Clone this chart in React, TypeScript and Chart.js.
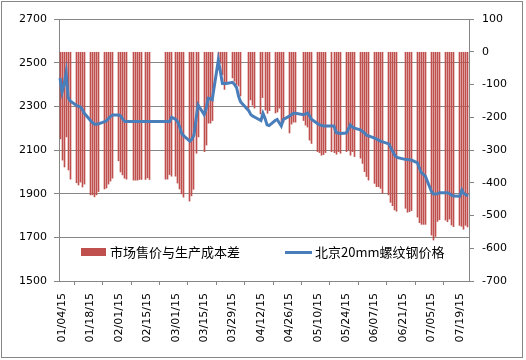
import React, { useEffect, useRef } from "react";
import { Chart, registerables } from "chart.js";

Chart.register(...registerables);

// ---- Data ----
const workDates: string[] = [
  "01/04/15", "01/05/15", "01/06/15", "01/07/15", "01/08/15", "01/09/15",
  "01/12/15", "01/13/15", "01/14/15", "01/15/15", "01/16/15",
  "01/19/15", "01/20/15", "01/21/15", "01/22/15", "01/23/15",
  "01/26/15", "01/27/15", "01/28/15", "01/29/15", "01/30/15",
  "02/02/15", "02/03/15", "02/04/15", "02/05/15", "02/06/15",
  "02/09/15", "02/10/15", "02/11/15", "02/12/15", "02/13/15",
  "02/15/15", "02/16/15", "02/17/15",
  "02/25/15", "02/26/15", "02/27/15", "02/28/15",
  "03/02/15", "03/03/15", "03/04/15", "03/05/15", "03/06/15",
  "03/09/15", "03/10/15", "03/11/15", "03/12/15", "03/13/15",
  "03/16/15", "03/17/15", "03/18/15", "03/19/15", "03/20/15",
  "03/23/15", "03/24/15", "03/25/15", "03/26/15", "03/27/15",
  "03/30/15", "03/31/15", "04/01/15", "04/02/15", "04/03/15",
  "04/07/15", "04/08/15", "04/09/15", "04/10/15",
  "04/13/15", "04/14/15", "04/15/15", "04/16/15", "04/17/15",
  "04/20/15", "04/21/15", "04/22/15", "04/23/15", "04/24/15",
  "04/27/15", "04/28/15", "04/29/15", "04/30/15",
  "05/04/15", "05/05/15", "05/06/15", "05/07/15", "05/08/15",
  "05/11/15", "05/12/15", "05/13/15", "05/14/15", "05/15/15",
  "05/18/15", "05/19/15", "05/20/15", "05/21/15", "05/22/15",
  "05/25/15", "05/26/15", "05/27/15", "05/28/15", "05/29/15",
  "06/01/15", "06/02/15", "06/03/15", "06/04/15", "06/05/15",
  "06/08/15", "06/09/15", "06/10/15", "06/11/15", "06/12/15",
  "06/15/15", "06/16/15", "06/17/15", "06/18/15", "06/19/15",
  "06/23/15", "06/24/15", "06/25/15", "06/26/15",
  "06/29/15", "06/30/15", "07/01/15", "07/02/15", "07/03/15",
  "07/06/15", "07/07/15", "07/08/15", "07/09/15", "07/10/15",
  "07/13/15", "07/14/15", "07/15/15", "07/16/15", "07/17/15",
  "07/20/15", "07/21/15", "07/22/15", "07/23/15", "07/24/15",
];

// 市场售价与生产成本差 (right axis)
const spread: number[] = [
  -266, -331, -352, -260, -361, -389,
  -400, -407, -398, -413, -404,
  -437, -437, -443, -437, -427,
  -419, -416, -404, -395, -386,
  -333, -367, -376, -386, -389,
  -392, -392, -392, -390, -390,
  -390, -385, -390,
  -389, -389, -375, -380,
  -380, -401, -419, -434, -444,
  -456, -440, -420, -310, -260,
  -305, -285, -218, -218, -210,
  -30, -35, -70, -115, -95,
  -80, -90, -100, -105, -135,
  -172, -147, -163, -172,
  -190, -140, -178, -188, -180,
  -187, -184, -172, -224, -215,
  -248, -221, -215, -215,
  -210, -224, -230, -270, -280,
  -305, -308, -316, -314, -308,
  -305, -308, -313, -305, -310,
  -305, -300, -316, -305, -320,
  -325, -341, -366, -381, -392,
  -402, -412, -412, -417, -432,
  -437, -460, -470, -483, -487,
  -478, -490, -488, -485,
  -505, -522, -527, -527, -527,
  -560, -575, -564, -518, -513,
  -514, -519, -511, -529, -534,
  -530, -533, -542, -530, -535,
];

// 北京20mm螺纹钢价格 (left axis)
const price: number[] = [
  2430, 2365, 2400, 2455, 2340, 2325,
  2305, 2300, 2298, 2285, 2268,
  2235, 2225, 2218, 2218, 2220,
  2230, 2235, 2245, 2255, 2260,
  2260, 2255, 2240, 2230, 2230,
  2230, 2230, 2230, 2230, 2230,
  2230, 2230, 2230,
  2230, 2230, 2230, 2250,
  2240, 2228, 2205, 2175, 2165,
  2140, 2150, 2168, 2240, 2306,
  2262, 2290, 2337, 2335, 2330,
  2512, 2460, 2405, 2405, 2405,
  2410, 2400, 2385, 2345, 2320,
  2280, 2262, 2255, 2250,
  2235, 2268, 2245, 2215, 2212,
  2235, 2240, 2225, 2210, 2240,
  2255, 2262, 2268, 2268,
  2262, 2265, 2270, 2255, 2240,
  2220, 2215, 2212, 2210, 2210,
  2210, 2210, 2180, 2178, 2176,
  2178, 2195, 2215, 2205, 2200,
  2192, 2185, 2178, 2168, 2165,
  2154, 2150, 2145, 2140, 2137,
  2128, 2110, 2092, 2075, 2066,
  2057, 2056, 2055, 2054,
  2042, 2020, 1996, 1988, 1980,
  1910, 1898, 1898, 1900, 1904,
  1904, 1904, 1900, 1892, 1889,
  1888, 1917, 1900, 1895, 1889,
];

const seriesNames: string[] = ["市场售价与生产成本差", "北京20mm螺纹钢价格"];
const leftTicks: number[] = [1500, 2700, 200];
const rightTicks: number[] = [-700, 100, 100];
const axisFirstDay = "2015-01-04";
const axisDayCount = 202;
const labelEveryDays = 14;

// ---- Helpers ----
function pad2(n: number) {
  return n < 10 ? "0" + n : String(n);
}
function calendarLabels(): string[] {
  const [y, m, d] = axisFirstDay.split("-").map(Number);
  const t0 = Date.UTC(y, m - 1, d);
  const out: string[] = [];
  for (let i = 0; i < axisDayCount; i++) {
    const dt = new Date(t0 + i * 86400000);
    out.push(
      pad2(dt.getUTCMonth() + 1) + "/" + pad2(dt.getUTCDate()) + "/" + pad2(dt.getUTCFullYear() % 100)
    );
  }
  return out;
}

const RED = "#C0504D";
const BLUE = "#4A7EBB";
const GRID = "#868686";
const FONT = "'DejaVu Sans', 'Noto Sans CJK SC', sans-serif";

// Snap the thin bars to whole pixels so they stay crisp 1px lines
const snapBars = {
  id: "snapBars",
  afterDatasetsUpdate(chart: any) {
    chart.data.datasets.forEach((ds: any, i: number) => {
      if (ds.type !== "bar") return;
      const meta = chart.getDatasetMeta(i);
      meta.data.forEach((el: any) => {
        if (el && typeof el.x === "number") el.x = Math.floor(el.x) + 0.5;
      });
    });
  },
};

export default function App() {
  const ref = useRef<HTMLCanvasElement | null>(null);

  useEffect(() => {
    document.body.style.margin = "0";
    const labels = calendarLabels();
    const idx = new Map<string, number>();
    labels.forEach((l, i) => idx.set(l, i));
    const barData: (number | null)[] = labels.map(() => null);
    const lineData: (number | null)[] = labels.map(() => null);
    workDates.forEach((d, k) => {
      const i = idx.get(d);
      if (i !== undefined) {
        barData[i] = spread[k];
        lineData[i] = price[k];
      }
    });

    const font = { family: FONT, size: 11 };
    const chart = new Chart(ref.current as HTMLCanvasElement, {
      type: "bar",
      plugins: [snapBars],
      data: {
        labels,
        datasets: [
          {
            type: "line",
            label: seriesNames[1],
            data: lineData,
            yAxisID: "y",
            borderColor: BLUE,
            backgroundColor: BLUE,
            borderWidth: 3,
            pointRadius: 0,
            tension: 0,
            spanGaps: true,
            order: 0,
          } as any,
          {
            type: "bar",
            label: seriesNames[0],
            data: barData,
            yAxisID: "y1",
            backgroundColor: RED,
            borderWidth: 0,
            barThickness: 1,
            order: 1,
          } as any,
        ],
      },
      options: {
        animation: false,
        responsive: false,
        devicePixelRatio: 1,
        layout: { padding: { left: 0, right: 0, top: 19, bottom: 0 } },
        plugins: { legend: { display: false }, tooltip: { enabled: false } },
        scales: {
          x: {
            type: "category",
            offset: true,
            grid: {
              display: true,
              drawOnChartArea: false,
              drawTicks: true,
              tickLength: 4,
              color: GRID,
              offset: true,
            },
            border: { display: true, color: GRID },
            ticks: {
              autoSkip: false,
              maxRotation: 90,
              minRotation: 90,
              padding: 8,
              labelOffset: 2,
              color: "#000",
              font,
              callback: (_v: any, i: number) => (i % labelEveryDays === 0 ? labels[i] : null),
            },
            afterFit: (s: any) => {
              s.height = 79;
            },
          },
          y: {
            position: "left",
            min: leftTicks[0],
            max: leftTicks[1],
            ticks: {
              stepSize: leftTicks[2],
              padding: 7,
              color: "#000",
              font,
              callback: (v: any) => String(v),
            },
            grid: { color: GRID, tickLength: 5, drawTicks: true },
            border: { display: true, color: GRID },
            afterFit: (s: any) => {
              s.width = 59;
            },
          },
          y1: {
            position: "right",
            min: rightTicks[0],
            max: rightTicks[1],
            ticks: {
              stepSize: rightTicks[2],
              padding: 8,
              color: "#000",
              font,
              callback: (v: any) => String(v),
            },
            grid: { drawOnChartArea: false, color: GRID, tickLength: 5, drawTicks: true },
            border: { display: true, color: GRID },
            afterFit: (s: any) => {
              s.width = 57;
            },
          },
        },
      } as any,
    });
    return () => chart.destroy();
  }, []);

  const legendText: React.CSSProperties = {
    position: "absolute",
    top: 244,
    fontFamily: "'Noto Sans CJK SC', sans-serif",
    fontSize: 13,
    lineHeight: "16px",
    color: "#000",
    whiteSpace: "nowrap",
  };

  return (
    <div style={{ position: "fixed", left: 0, top: 0, width: 526, height: 360, background: "#fff" }}>
      <canvas ref={ref} width={526} height={360} style={{ position: "absolute", left: 0, top: 0, width: 526, height: 360 }} />
      <div
        style={{
          position: "absolute",
          left: 1,
          top: 1,
          width: 522,
          height: 357,
          border: "1px solid " + GRID,
          boxSizing: "border-box",
          pointerEvents: "none",
        }}
      />
      <div style={{ position: "absolute", left: 81, top: 248, width: 25, height: 8, background: RED }} />
      <div style={{ ...legendText, left: 110 }}>{seriesNames[0]}</div>
      <div style={{ position: "absolute", left: 285, top: 251, width: 27, height: 3, background: BLUE }} />
      <div style={{ ...legendText, left: 315 }}>{seriesNames[1]}</div>
    </div>
  );
}
